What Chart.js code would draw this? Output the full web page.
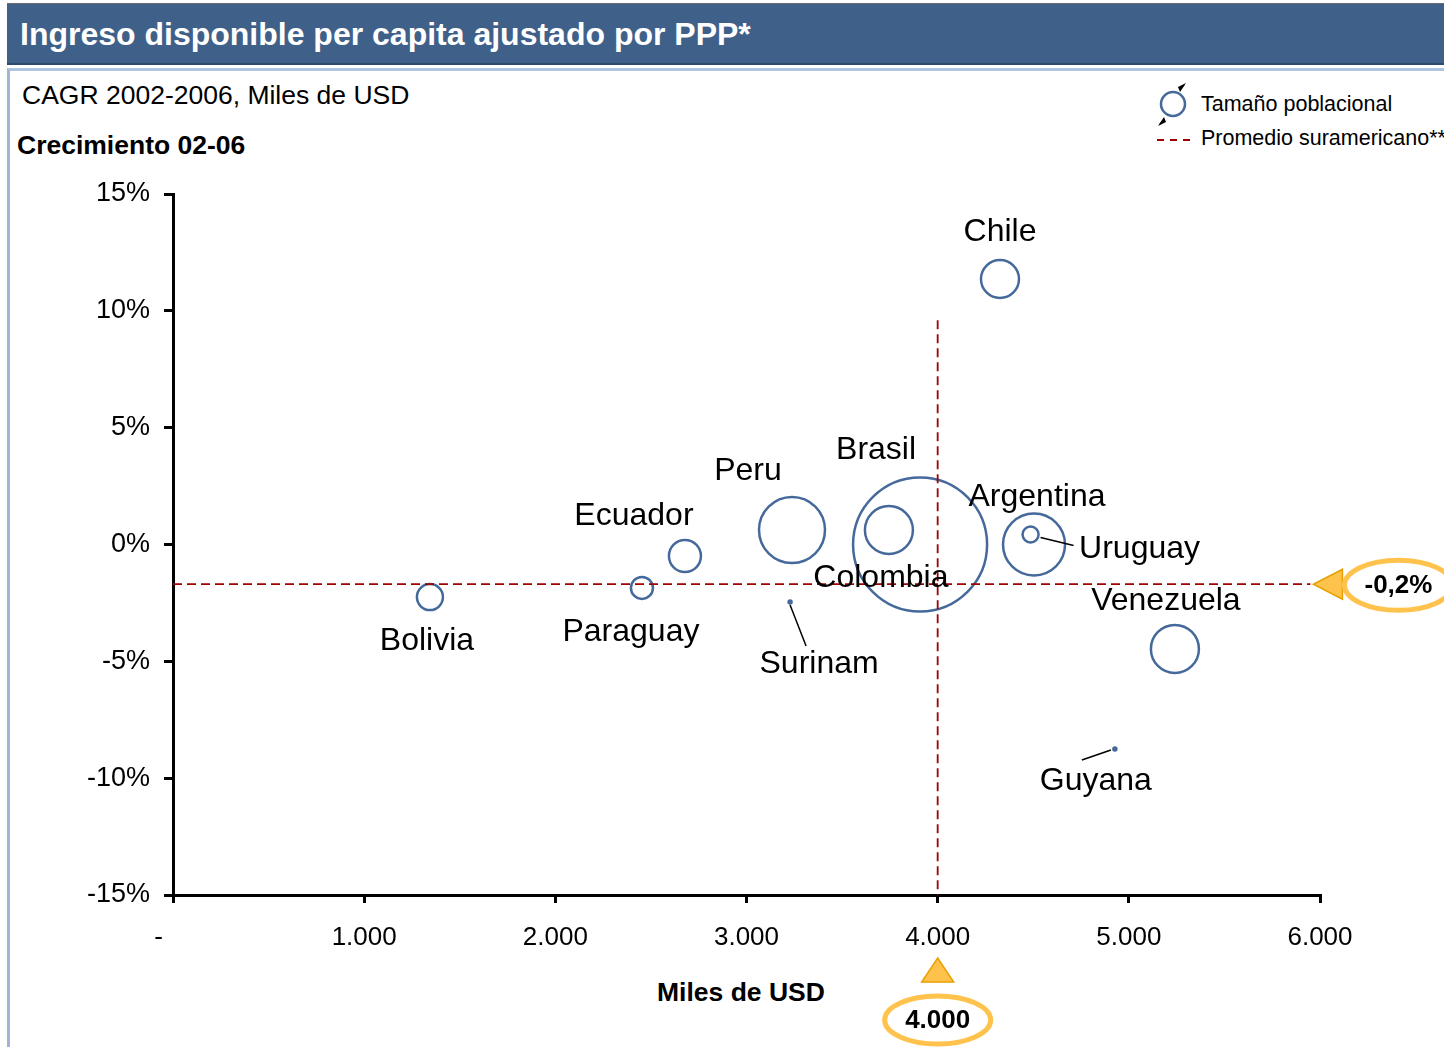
<!DOCTYPE html>
<html>
<head>
<meta charset="utf-8">
<script src="https://cdn.jsdelivr.net/npm/chart.js@4/dist/chart.umd.min.js"></script>
<style>
  body { margin: 0; width: 1444px; height: 1047px; overflow: hidden; background: #fff;
         font-family: "Liberation Sans", Arial, sans-serif; position: relative; }
  .abs { position: absolute; white-space: nowrap; }
  #titulo { left: 7px; top: 3px; width: 1437px; height: 59px; background: #3F6189;
            border-top: 1px solid #6b6b6b; border-bottom: 2px solid #2E4A6B; }
  #titulo span { position: absolute; left: 13px; top: 12px; color: #fff; font-weight: bold; font-size: 32px; }
  #marco { left: 7px; top: 68px; width: 1437px; height: 979px;
           border-top: 3px solid #AFC4DF; border-left: 3px solid #9DB5D6; }
  #wrap { position: absolute; left: 0; top: 0; width: 1444px; height: 1047px; }
</style>
</head>
<body>
<div id="titulo" class="abs"><span>Ingreso disponible per capita ajustado por PPP*</span></div>
<div id="marco" class="abs"></div>
<div class="abs" style="left:22px; top:80px; font-size:26.5px;">CAGR 2002-2006, Miles de USD</div>
<div class="abs" style="left:17px; top:130px; font-size:26.5px; font-weight:bold;">Crecimiento 02-06</div>
<div class="abs" style="left:657px; top:977px; font-size:26.5px; font-weight:bold;">Miles de USD</div>

<!-- leyenda -->
<svg class="abs" style="left:1150px; top:80px;" width="50" height="70">
  <circle cx="23" cy="24" r="12" fill="none" stroke="#45699A" stroke-width="2.5"/>
  <polygon points="36,3 30,12 28,7" fill="#000"/>
  <line x1="31" y1="8" x2="34" y2="5" stroke="#000" stroke-width="1.5"/>
  <polygon points="8,46 14,37 16,42" fill="#000"/>
  <line x1="13" y1="41" x2="10" y2="44" stroke="#000" stroke-width="1.5"/>
  <line x1="7" y1="60" x2="41" y2="60" stroke="#A00000" stroke-width="1.8" stroke-dasharray="7,6"/>
</svg>
<div class="abs" style="left:1201px; top:92px; font-size:21.5px;">Tamaño poblacional</div>
<div class="abs" style="left:1201px; top:126px; font-size:21.5px;">Promedio suramericano**</div>

<div id="wrap"><canvas id="grafico"></canvas></div>

<script>
// datos
const paises = ['Chile', 'Brasil', 'Peru', 'Ecuador', 'Argentina', 'Uruguay',
                'Colombia', 'Venezuela', 'Bolivia', 'Paraguay', 'Surinam', 'Guyana'];
const ingreso = [4326, 3908, 3238, 2678, 4504, 4486, 3745, 5241, 1344, 2453, 3228, 4927];
const crecimiento = [11.36, 0, 0.62, -0.49, 0, 0.43, 0.62, -4.47, -2.25, -1.86, -2.46, -8.75];
const tamano = [19, 67, 33, 16, 31, 8, 24, 24, 13, 11, 1.5, 1.5];

const promedioIngreso = 4000;
const promedioCrec = -1.7;
const etiquetaIngreso = '4.000';
const etiquetaCrec = '-0,2%';

const xTicks = [0, 1000, 2000, 3000, 4000, 5000, 6000];
const xTickLabels = ['-    ', '1.000', '2.000', '3.000', '4.000', '5.000', '6.000'];

// desplazamiento de las etiquetas respecto al centro de cada burbuja (px)
const etiquetaPos = {
  Chile: [0, -47], Brasil: [-44, -94], Peru: [-44, -59], Ecuador: [-51, -40],
  Argentina: [3, -47], Uruguay: [109, 15], Colombia: [-8, 48], Venezuela: [-9, -48],
  Bolivia: [-3, 44], Paraguay: [-11, 44], Surinam: [29, 62], Guyana: [-19, 32]
};
// lineas guia
const guias = {
  Surinam: [0, 3, 16, 44],
  Guyana: [-4, 1, -33, 11],
  Uruguay: [10, 3, 43, 11]
};

const azul = '#45699A';
const rojo = '#A00000';
const naranja = '#FFC34D';
const fuente = '"Liberation Sans", Arial, sans-serif';

const burbujas = paises.map((p, i) => ({ x: ingreso[i], y: crecimiento[i], r: tamano[i] }));

const etiquetas = {
  id: 'etiquetas',
  afterDatasetsDraw(chart) {
    const ctx = chart.ctx;
    const meta = chart.getDatasetMeta(2);
    ctx.save();
    ctx.fillStyle = '#000';
    ctx.strokeStyle = '#000';
    ctx.lineWidth = 1.5;
    ctx.font = '32px ' + fuente;
    ctx.textAlign = 'center';
    ctx.textBaseline = 'middle';
    paises.forEach((p, i) => {
      const pt = meta.data[i];
      const g = guias[p];
      if (g) {
        ctx.beginPath();
        ctx.moveTo(pt.x + g[0], pt.y + g[1]);
        ctx.lineTo(pt.x + g[2], pt.y + g[3]);
        ctx.stroke();
      }
      const o = etiquetaPos[p];
      ctx.fillText(p, pt.x + o[0], pt.y + o[1]);
    });
    ctx.restore();
  },
  afterDraw(chart) {
    const ctx = chart.ctx;
    const xs = chart.scales.x, ys = chart.scales.y;
    ctx.save();
    // flecha derecha
    const yp = ys.getPixelForValue(promedioCrec);
    const tx = xs.getPixelForValue(5950) + 3;
    ctx.beginPath();
    ctx.moveTo(tx, yp);
    ctx.lineTo(tx + 29, yp - 15);
    ctx.lineTo(tx + 29, yp + 15);
    ctx.closePath();
    ctx.fillStyle = naranja;
    ctx.fill();
    ctx.strokeStyle = '#E8A000';
    ctx.lineWidth = 1.5;
    ctx.stroke();
    ctx.beginPath();
    ctx.ellipse(tx + 85, yp + 1, 54, 25, 0, 0, Math.PI * 2);
    ctx.strokeStyle = naranja;
    ctx.lineWidth = 5;
    ctx.stroke();
    ctx.fillStyle = '#000';
    ctx.font = 'bold 26px ' + fuente;
    ctx.textAlign = 'center';
    ctx.textBaseline = 'middle';
    ctx.fillText(etiquetaCrec, tx + 85, yp + 2);
    // flecha inferior
    const xp = xs.getPixelForValue(promedioIngreso);
    const ty = chart.chartArea.bottom + 63;
    ctx.beginPath();
    ctx.moveTo(xp, ty);
    ctx.lineTo(xp + 16, ty + 24);
    ctx.lineTo(xp - 16, ty + 24);
    ctx.closePath();
    ctx.fillStyle = naranja;
    ctx.fill();
    ctx.strokeStyle = '#E8A000';
    ctx.lineWidth = 1.5;
    ctx.stroke();
    ctx.beginPath();
    ctx.ellipse(xp, ty + 62, 53, 24, 0, 0, Math.PI * 2);
    ctx.strokeStyle = naranja;
    ctx.lineWidth = 5;
    ctx.stroke();
    ctx.fillStyle = '#000';
    ctx.fillText(etiquetaIngreso, xp, ty + 63);
    ctx.restore();
  }
};

const ctx = document.getElementById('grafico').getContext('2d');
const grafico = new Chart(ctx, {
  type: 'bubble',
  data: {
    datasets: [
      {
        type: 'line',
        data: [{ x: 0, y: promedioCrec }, { x: 5950, y: promedioCrec }],
        borderColor: rojo, borderWidth: 1.8, borderDash: [9, 5],
        pointRadius: 0, fill: false
      },
      {
        type: 'line',
        data: [{ x: promedioIngreso, y: 9.6 }, { x: promedioIngreso, y: -15 }],
        borderColor: rojo, borderWidth: 1.8, borderDash: [9, 5],
        pointRadius: 0, fill: false
      },
      {
        data: burbujas,
        borderColor: azul,
        borderWidth: 2.5,
        backgroundColor: tamano.map(r => r < 3 ? azul : 'rgba(0,0,0,0)')
      }
    ]
  },
  options: {
    responsive: true,
    maintainAspectRatio: false,
    animation: false,
    layout: { padding: { left: 0, top: 194, right: 124, bottom: 0 } },
    plugins: { legend: { display: false }, tooltip: { enabled: false } },
    scales: {
      x: {
        type: 'linear', min: 0, max: 6000,
        afterBuildTicks: s => { s.ticks = xTicks.map(v => ({ value: v })); },
        afterFit: s => { s.height = 152; },
        ticks: {
          color: '#000', padding: 19,
          font: { family: fuente, size: 26 },
          callback: v => xTickLabels[xTicks.indexOf(v)]
        },
        grid: { drawOnChartArea: false, color: '#000', lineWidth: 3, tickLength: 8 },
        border: { color: '#000', width: 3 }
      },
      y: {
        type: 'linear', min: -15, max: 15,
        afterFit: s => { s.width = 173; },
        ticks: {
          stepSize: 5, color: '#000', padding: 14,
          font: { family: fuente, size: 27 },
          callback: v => v + '%'
        },
        grid: { drawOnChartArea: false, color: '#000', lineWidth: 3, tickLength: 9 },
        border: { color: '#000', width: 3 }
      }
    }
  },
  plugins: [etiquetas]
});
</script>
</body>
</html>
